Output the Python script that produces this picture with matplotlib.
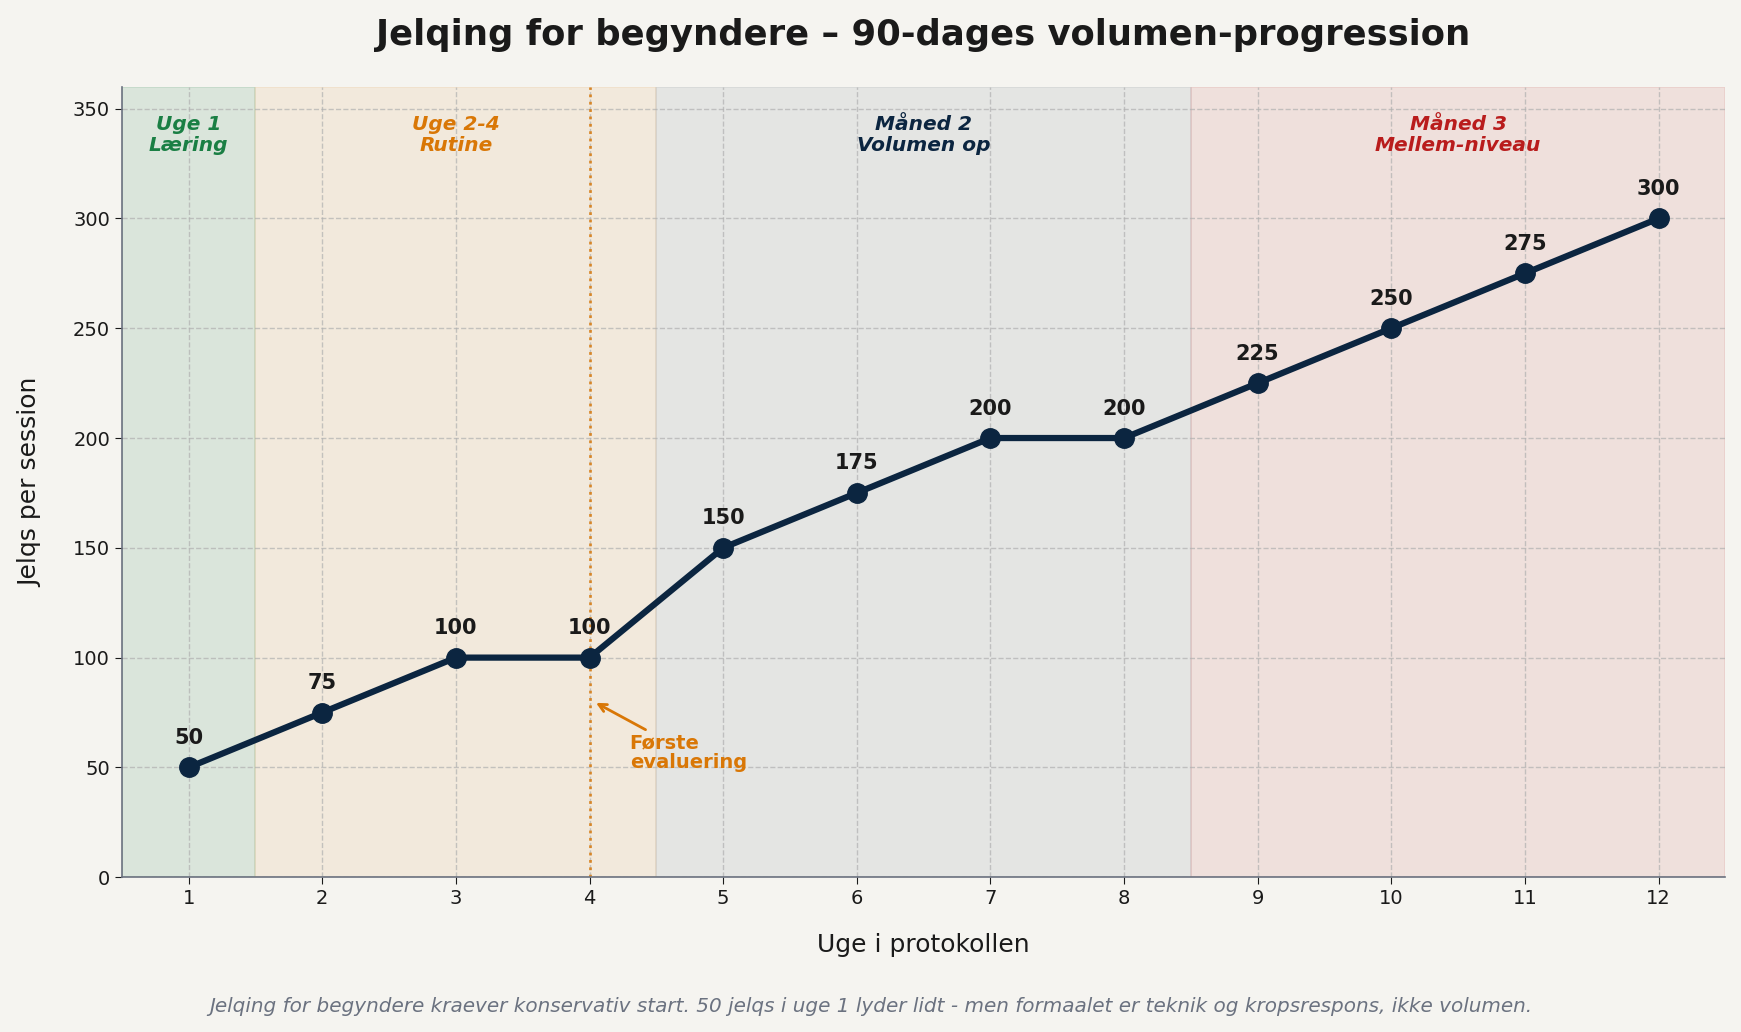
import matplotlib
matplotlib.use("Agg")
import matplotlib.pyplot as plt

# data
uger = [1, 2, 3, 4, 5, 6, 7, 8, 9, 10, 11, 12]
jelqs = [50, 75, 100, 100, 150, 175, 200, 200, 225, 250, 275, 300]

faser = [
    (0.5, 1.5, "Uge 1\nLæring", "#1a7f44", "#1a7f44"),
    (1.5, 4.5, "Uge 2-4\nRutine", "#d97706", "#e0a050"),
    (4.5, 8.5, "Måned 2\nVolumen op", "#0b2540", "#6f7a88"),
    (8.5, 12.5, "Måned 3\nMellem-niveau", "#b91c1c", "#c65050"),
]

bg = "#f5f4f0"
navy = "#0b2540"

fig = plt.figure(figsize=(17.41, 10.32), dpi=100, facecolor=bg)
ax = fig.add_axes([0.070, 0.150, 0.921, 0.766])
ax.set_facecolor(bg)

for x0, x1, label, tcol, fcol in faser:
    ax.axvspan(x0, x1, color=fcol, alpha=0.12, zorder=0, lw=1.2)
    ax.text((x0 + x1) / 2, 347, label, ha="center", va="top", color=tcol,
            fontsize=14.5, fontweight="bold", fontstyle="italic", linespacing=1.15)

ax.axvline(4, color="#d97706", ls=":", lw=2, alpha=0.8, zorder=1)

ax.grid(True, ls="--", color="#b0b0b0", alpha=0.7, lw=1, zorder=1)
ax.set_axisbelow(True)

ax.plot(uger, jelqs, color=navy, lw=4.5, marker="o", markersize=14, zorder=3)
for x, y in zip(uger, jelqs):
    ax.annotate(str(y), (x, y), xytext=(0, 14), textcoords="offset points",
                ha="center", va="bottom", fontsize=15, fontweight="bold",
                color="#1a1a1a", zorder=4)

ax.annotate("Første\nevaluering", xy=(4.03, 80), xytext=(4.3, 48),
            color="#d97706", fontsize=14, fontweight="bold", ha="left",
            va="bottom", linespacing=1.0,
            arrowprops=dict(arrowstyle="->", color="#d97706", lw=2))

ax.set_xlim(0.5, 12.5)
ax.set_ylim(0, 360)
ax.set_xticks(uger)
ax.set_yticks(range(0, 351, 50))
ax.tick_params(labelsize=14, colors="#1a1a1a", length=5)
for s in ["top", "right"]:
    ax.spines[s].set_visible(False)
for s in ["left", "bottom"]:
    ax.spines[s].set_color("#6b7280")
    ax.spines[s].set_linewidth(1.2)

ax.set_xlabel("Uge i protokollen", fontsize=18, color="#1a1a1a", labelpad=18)
ax.set_ylabel("Jelqs per session", fontsize=18, color="#1a1a1a", labelpad=22)

ax.set_title("Jelqing for begyndere – 90-dages volumen-progression",
             fontsize=25.5, fontweight="bold", color="#1a1a1a", pad=30)
fig.text(0.5, 0.025,
         "Jelqing for begyndere kraever konservativ start. 50 jelqs i uge 1 lyder lidt - men formaalet er teknik og kropsrespons, ikke volumen.",
         ha="center", va="center", fontsize=14.4, fontstyle="italic", color="#6b7280")

fig.savefig("out.png", dpi=100, facecolor=bg)
